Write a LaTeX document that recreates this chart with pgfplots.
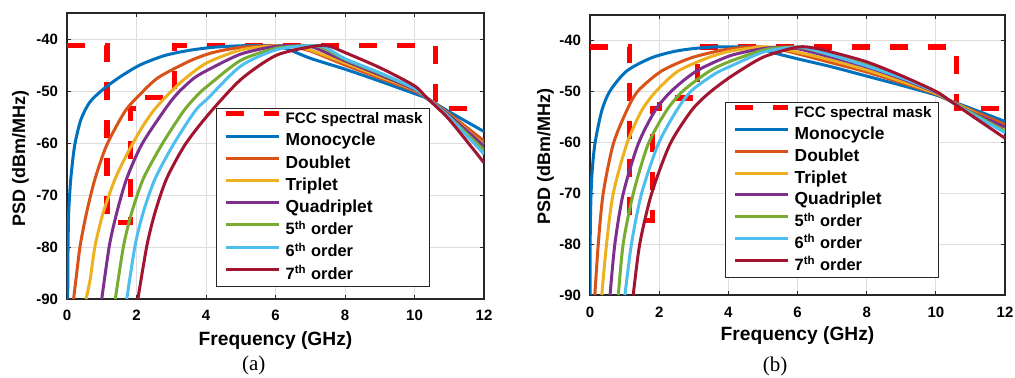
\documentclass[border=0pt]{standalone}
\usepackage{pgfplots}
\pgfplotsset{compat=1.18}
\usepackage{fontspec}
\setmainfont{Liberation Sans}
\newfontfamily\timesfont{Liberation Serif}
\definecolor{c1}{rgb}{0,0.447,0.741}
\definecolor{c2}{rgb}{0.85,0.325,0.098}
\definecolor{c3}{rgb}{0.929,0.694,0.125}
\definecolor{c4}{rgb}{0.494,0.184,0.556}
\definecolor{c5}{rgb}{0.466,0.674,0.188}
\definecolor{c6}{rgb}{0.301,0.745,0.933}
\definecolor{c7}{rgb}{0.635,0.078,0.184}
\definecolor{gridc}{HTML}{DEDEDE}
\definecolor{axc}{HTML}{262626}
\pgfplotsset{
 psd/.style={
  scale only axis, clip mode=individual,
  xmin=0,xmax=12,ymin=-90,ymax=-35,
  xtick={0,2,...,12}, xticklabels={0,2,4,6,8,10,12},
  ytick={-90,-80,-70,-60,-50,-40}, yticklabels={-90,-80,-70,-60,-50,-40},
  tick align=inside, major tick length=2pt,
  grid=major, major grid style={gridc, line width=0.5pt},
  axis line style={axc, line width=0.6pt},
  every tick/.style={axc, line width=0.5pt},
  ticklabel style={font=\fontsize{7.5}{9}\selectfont\bfseries, text=black},
  xticklabel style={inner sep=0pt, anchor=north, yshift=-5.4pt},
  yticklabel style={inner sep=0pt, anchor=east, xshift=-4.3pt},
  xlabel={Frequency (GHz)}, ylabel={PSD (dBm/MHz)},
  xlabel style={font=\fontsize{9.6}{11}\selectfont\bfseries},
  ylabel style={font=\fontsize{9}{11}\selectfont\bfseries},
  legend cell align=left,
  legend image code/.code={\draw[#1] (0pt,2.9pt) -- (26.5pt,2.9pt);},
 },
 cv/.style={line width=1.5pt, smooth, tension=0.45},
 mask/.style={red, line width=2.6pt, dash pattern=on 9pt off 10pt, sharp plot},
}
\newcommand\fcc{\fontsize{7.6}{9}\selectfont FCC spectral mask}
\newcommand\ordf{\fontsize{8.2}{9}\selectfont}
\begin{document}
\begin{tikzpicture}[x=1pt,y=1pt]
\path[use as bounding box] (0,0) rectangle (507.5,188.5);
% ---------------- (a)
\begin{axis}[psd, at={(33.5pt,39pt)}, anchor=south west, width=208.5pt, height=143pt,
  xlabel style={at={(axis description cs:0.5,-0.161)}, anchor=base},
  ylabel style={at={(axis description cs:-0.1007,0.49)}, anchor=base},
  legend style={at={(0.357,0.668)}, anchor=north west, draw=axc, line width=0.6pt, fill=white,
    inner xsep=3.5pt, inner ysep=0pt, row sep=0pt, column sep=2pt,
    font=\fontsize{8.7}{10}\selectfont\bfseries,
    nodes={inner sep=0pt, text height=7.6pt, text depth=3.5pt}},
]
\addplot[mask] coordinates {(0,-41.3) (1.15,-41.3) (1.15,-75.3) (1.82,-75.3) (1.82,-53.3) (2.0,-53.3) (2.0,-51.3) (3.1,-51.3) (3.1,-41.3) (10.6,-41.3) (10.6,-53.3) (12,-53.3)};
\addlegendentry{\fcc}
\addplot[cv,c1] coordinates {(0.02,-90) (0.03,-80) (0.05,-73.2) (0.11,-66.8) (0.22,-60.5) (0.4,-55.5) (0.65,-52.2) (1.0,-49.9) (1.5,-47.4) (2.1,-45) (2.8,-43.2) (3.5,-42.2) (4.2,-41.6) (5,-41.3) (5.9,-41.3) (6.3,-41.8) (7,-43.7) (8,-45.8) (9,-48.1) (10,-50.5) (10.35,-51.4) (11,-54) (12,-57.8)};
\addlegendentry{Monocycle}
\addplot[cv,c2] coordinates {(0.19,-90) (0.26,-86.1) (0.38,-79.7) (0.57,-73.2) (0.81,-66.8) (1.15,-60.3) (1.67,-53.9) (2.11,-50.6) (2.63,-47.4) (3.54,-44.2) (4.2,-42.6) (5,-41.6) (5.8,-41.3) (6.4,-41.4) (7,-42.3) (8,-45) (9,-47.5) (10,-50) (10.35,-51.3) (11,-54.4) (12,-59.6)};
\addlegendentry{Doublet}
\addplot[cv,c3] coordinates {(0.55,-90) (0.67,-86.1) (0.81,-79.7) (1.05,-73.2) (1.39,-66.8) (1.77,-61.6) (2.15,-57.1) (2.5,-53.7) (2.92,-50.6) (3.4,-47.6) (4.02,-44.6) (5,-42.1) (6,-41.3) (6.6,-41.4) (7,-42.1) (8,-44.6) (9,-47.2) (10,-49.8) (10.35,-51.3) (11,-54.6) (12,-60.4)};
\addlegendentry{Triplet}
\addplot[cv,c4] coordinates {(1.0,-90) (1.22,-79.7) (1.44,-73.2) (1.72,-66.8) (2.15,-60.3) (2.78,-53.9) (3.16,-50.6) (3.64,-47.6) (4.07,-45.9) (5,-42.9) (6,-41.4) (6.7,-41.3) (7.1,-41.6) (8,-44.2) (9,-46.9) (10,-49.7) (10.35,-51.3) (11,-54.7) (12,-60.6)};
\addlegendentry{Quadriplet}
\addplot[cv,c5] coordinates {(1.39,-90) (1.63,-79.7) (1.87,-73.2) (2.2,-66.8) (2.73,-60.3) (3.35,-53.9) (3.78,-50.6) (4.07,-48.9) (5,-44.1) (6,-41.8) (6.8,-41.3) (7.3,-41.5) (8,-43.9) (9,-46.6) (10,-49.5) (10.35,-51.3) (11,-55) (12,-61.4)};
\addlegendentry{\ordf 5\textsuperscript{th} order}
\addplot[cv,c6] coordinates {(1.72,-90) (1.96,-79.7) (2.2,-73.2) (2.54,-66.8) (3.06,-60.3) (3.68,-53.9) (4.07,-51.3) (5,-45.2) (6,-42.1) (6.9,-41.3) (7.4,-41.5) (8,-43.8) (9,-46.5) (10,-49.5) (10.35,-51.3) (11,-55.1) (12,-62.1)};
\addlegendentry{\ordf 6\textsuperscript{th} order}
\addplot[cv,c7] coordinates {(2.04,-90) (2.3,-79.7) (2.54,-73.2) (2.87,-66.8) (3.4,-60.3) (4.07,-54.5) (5,-47.8) (6,-43.2) (7,-41.5) (7.5,-41.3) (8,-42.6) (9,-45.5) (10,-49) (10.35,-51.3) (11,-55.5) (12,-63.8)};
\addlegendentry{\ordf 7\textsuperscript{th} order}
\node[anchor=center, inner sep=0pt, font=\timesfont\fontsize{10.5}{12}\selectfont] at (axis description cs:0.448,-0.234) {(a)};
\end{axis}
% ---------------- (b)
\begin{axis}[psd, at={(295pt,41pt)}, anchor=south west, width=207.5pt, height=140pt,
  xticklabel style={yshift=-0.4pt},
  xlabel style={at={(axis description cs:0.5,-0.161)}, anchor=base},
  ylabel style={at={(axis description cs:-0.0964,0.493)}, anchor=base},
  legend style={at={(0.325,0.689)}, anchor=north west, draw=axc, line width=0.6pt, fill=white,
    inner xsep=3.5pt, inner ysep=0pt, row sep=0pt, column sep=2pt,
    font=\fontsize{8.7}{10}\selectfont\bfseries,
    nodes={inner sep=0pt, text height=7.5pt, text depth=3.4pt}},
]
\addplot[mask] coordinates {(0,-41.3) (1.15,-41.3) (1.15,-75.3) (1.8,-75.3) (1.8,-53.3) (2.0,-53.3) (2.0,-51.3) (3.1,-51.3) (3.1,-41.3) (10.6,-41.3) (10.6,-53.3) (12,-53.3)};
\addlegendentry{\fcc}
\addplot[cv,c1] coordinates {(0,-90) (0.01,-76) (0.05,-67) (0.14,-60.4) (0.34,-53.8) (0.58,-49.9) (1.06,-46) (1.78,-43.4) (2.55,-42) (3.5,-41.3) (4.6,-41.3) (5.0,-41.7) (5.3,-42.4) (6,-43.6) (7,-45.2) (8,-47) (9,-48.8) (10,-50.7) (10.4,-51.8) (11,-53.3) (12,-55.9)};
\addlegendentry{Monocycle}
\addplot[cv,c2] coordinates {(0.14,-90) (0.24,-79.9) (0.38,-70.1) (0.67,-60.4) (1.06,-53.8) (1.39,-49.9) (2.07,-46) (2.93,-43.4) (3.9,-41.8) (4.6,-41.3) (5,-41.3) (5.5,-41.8) (6,-42.6) (7,-44.4) (8,-46.2) (9,-48.3) (10,-50.5) (10.4,-51.8) (11,-53.6) (12,-56.5)};
\addlegendentry{Doublet}
\addplot[cv,c3] coordinates {(0.34,-90) (0.48,-79.9) (0.67,-70.1) (1.06,-60.4) (1.49,-53.8) (1.92,-49.9) (2.55,-46) (3.41,-43.4) (4.05,-42.1) (4.8,-41.4) (5.2,-41.3) (6,-42.3) (7,-43.9) (8,-45.8) (9,-48) (10,-50.4) (10.4,-51.8) (11,-53.8) (12,-57.4)};
\addlegendentry{Triplet}
\addplot[cv,c4] coordinates {(0.58,-90) (0.72,-79.9) (0.96,-70.1) (1.39,-60.4) (1.88,-53.8) (2.36,-49.9) (3.08,-46) (4.05,-43.0) (5,-41.6) (5.6,-41.3) (6,-41.6) (7,-43.3) (8,-45.2) (9,-47.5) (10,-50.2) (10.4,-51.8) (11,-54) (12,-57.0)};
\addlegendentry{Quadriplet}
\addplot[cv,c5] coordinates {(0.82,-90) (0.96,-79.9) (1.25,-70.1) (1.68,-60.4) (2.21,-53.8) (2.69,-49.9) (3.46,-46) (4.05,-44.1) (5,-41.9) (5.7,-41.3) (6.2,-41.5) (7,-42.9) (8,-44.8) (9,-47.2) (10,-50.1) (10.4,-51.8) (11,-54.1) (12,-57.8)};
\addlegendentry{\ordf 5\textsuperscript{th} order}
\addplot[cv,c6] coordinates {(1.01,-90) (1.2,-79.9) (1.49,-70.1) (1.97,-60.4) (2.5,-53.8) (2.93,-49.9) (3.6,-46.6) (4.05,-45.1) (5,-42.3) (5.8,-41.4) (6.2,-41.4) (7,-42.9) (8,-45) (9,-47.3) (10,-50.1) (10.4,-51.8) (11,-54.3) (12,-58.1)};
\addlegendentry{\ordf 6\textsuperscript{th} order}
\addplot[cv,c7] coordinates {(1.25,-90) (1.44,-79.9) (1.78,-70.1) (2.31,-60.4) (2.93,-53.8) (3.41,-50.5) (4.05,-47.2) (5,-43.3) (6,-41.3) (6.5,-41.5) (7,-42.3) (8,-44.2) (9,-46.9) (10,-50) (10.4,-51.8) (11,-54.6) (12,-59.2)};
\addlegendentry{\ordf 7\textsuperscript{th} order}
\node[anchor=center, inner sep=0pt, font=\timesfont\fontsize{10.5}{12}\selectfont] at (axis description cs:0.446,-0.254) {(b)};
\end{axis}
\end{tikzpicture}
\end{document}
